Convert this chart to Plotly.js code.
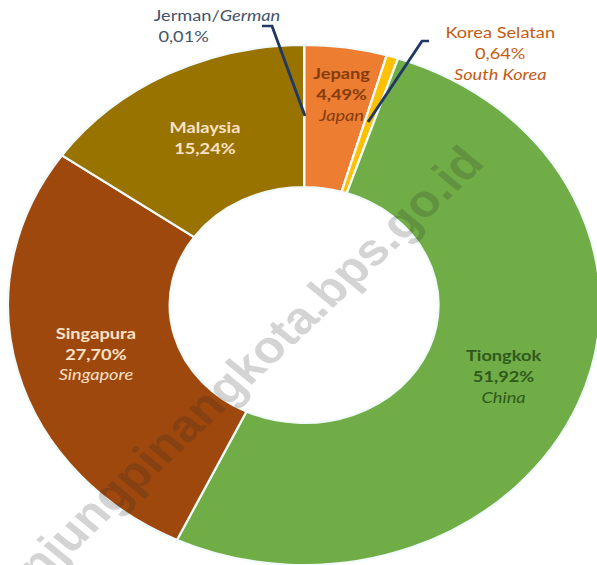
<!DOCTYPE html>
<html>
<head>
<meta charset="utf-8">
<script src="https://cdn.plot.ly/plotly-3.0.1.min.js"></script>
<style>
  html, body { margin: 0; padding: 0; background: #fff; overflow: hidden; }
  #wrap { width: 597px; height: 565px; overflow: hidden; position: relative; }
  #chart { width: 540px; height: 565px; transform: scaleX(1.139); transform-origin: 0 0; }
</style>
</head>
<body>
<div id="wrap"><div id="chart"></div></div>
<script>
// ---- data ----
const labelsId = ["Jerman", "Jepang", "Korea Selatan", "Tiongkok", "Singapura", "Malaysia"];
const labelsEn = ["German", "Japan", "South Korea", "China", "Singapore", ""];
const shares   = [0.01, 4.49, 0.64, 51.92, 27.70, 15.24];
const colors   = ["#1f3864", "#ED7D31", "#FFC000", "#70AD47", "#9E480E", "#997300"];
const textColors = ["#44546a", "#843c0c", "#c55a11", "#2f5a1c", "#fbe1c8", "#fbe1c8"];

// ---- geometry helpers (reference pixel -> paper, accounting for horizontal stretch) ----
const S = 1.139, W = 540, H = 565;
const px = x => x / S / W;
const py = y => 1 - y / H;
const fmt = v => v.toFixed(2).replace('.', ',') + '%';
const FONT = 'Lato, "Open Sans", sans-serif';

function labelHTML(i) {
  let s = '<b>' + labelsId[i] + '</b><br><b>' + fmt(shares[i]) + '</b>';
  if (labelsEn[i]) s += '<br><i>' + labelsEn[i] + '</i>';
  return s;
}

const insideIdx = [3, 4, 5];
const textArr = labelsId.map((_, i) => insideIdx.includes(i) ? labelHTML(i) : '');
const posArr = labelsId.map((_, i) => insideIdx.includes(i) ? 'inside' : 'none');

const trace = {
  type: 'pie',
  labels: labelsId,
  values: shares,
  sort: false,
  direction: 'clockwise',
  rotation: 0,
  hole: 0.454,
  domain: { x: [7 / W, 527 / W], y: [0, 520 / H] },
  marker: { colors: colors, line: { color: '#f2fbfb', width: 2 } },
  text: textArr,
  texttemplate: '%{text}',
  textposition: posArr,
  insidetextorientation: 'horizontal',
  textfont: { family: FONT, size: 16, color: textColors },
  hoverinfo: 'label+percent',
  showlegend: false
};

const lineStyle = { color: '#1f3864', width: 2.5 };
const path = pts => 'M ' + pts.map(p => px(p[0]) + ' ' + py(p[1])).join(' L ');

const layout = {
  width: 540, height: 565,
  margin: { l: 0, r: 0, t: 0, b: 0 },
  paper_bgcolor: '#ffffff',
  showlegend: false,
  shapes: [
    { type: 'path', xref: 'paper', yref: 'paper', path: path([[262, 26], [272, 26], [305, 116]]), line: lineStyle },
    { type: 'path', xref: 'paper', yref: 'paper', path: path([[429, 41], [422, 41], [368, 122]]), line: lineStyle }
  ],
  annotations: [
    {
      xref: 'paper', yref: 'paper', x: px(152), y: py(25), xanchor: 'left', yanchor: 'middle',
      align: 'left', showarrow: false,
      text: labelsId[0] + '/<i>' + labelsEn[0] + '</i><br> ' + fmt(shares[0]),
      font: { family: FONT, size: 16, color: textColors[0] }
    },
    {
      xref: 'paper', yref: 'paper', x: px(342), y: py(93), xanchor: 'center', yanchor: 'middle',
      align: 'center', showarrow: false, text: labelHTML(1),
      font: { family: FONT, size: 16, color: textColors[1] }
    },
    {
      xref: 'paper', yref: 'paper', x: px(500), y: py(52), xanchor: 'center', yanchor: 'middle',
      align: 'center', showarrow: false,
      text: labelsId[2] + '<br>' + fmt(shares[2]) + '<br><i>' + labelsEn[2] + '</i>',
      font: { family: FONT, size: 16, color: textColors[2] }
    },
    {
      xref: 'paper', yref: 'paper', x: px(234), y: py(378), xanchor: 'center', yanchor: 'middle',
      showarrow: false, textangle: -47,
      text: 'tanjungpinangkota.bps.go.id',
      font: { family: 'Arial, "Liberation Sans", sans-serif', size: 45, weight: 'bold', color: 'rgba(40,40,40,0.2)' }
    }
  ]
};

Plotly.newPlot('chart', [trace], layout, { displayModeBar: false, staticPlot: true });
</script>
</body>
</html>
